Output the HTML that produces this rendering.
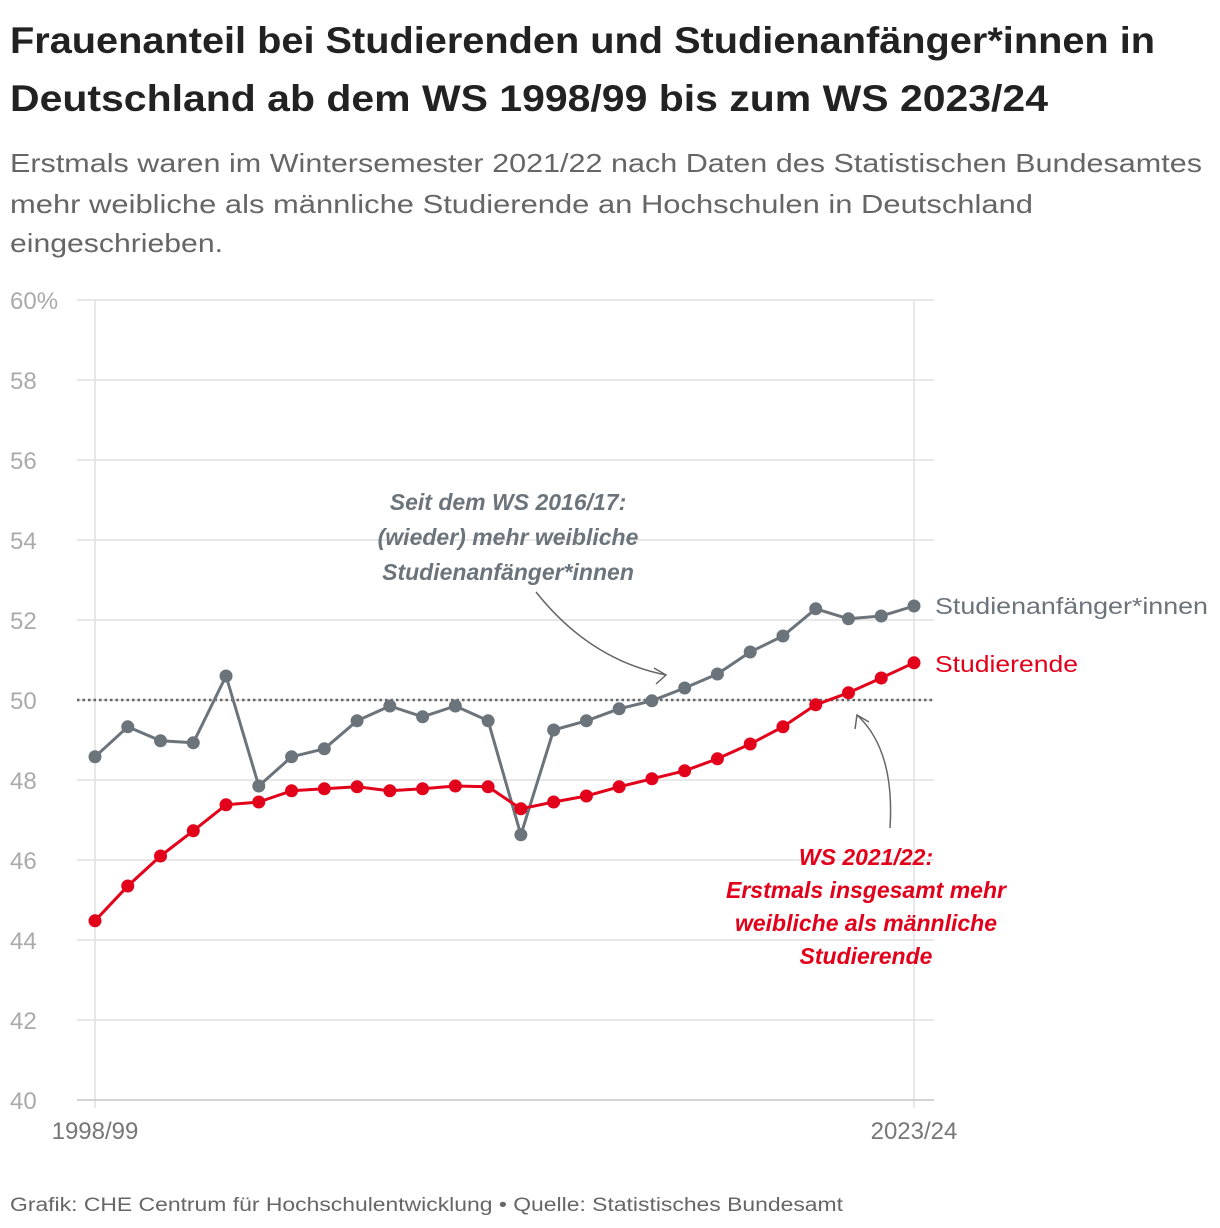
<!DOCTYPE html>
<html><head><meta charset="utf-8"><style>
html,body{margin:0;padding:0;background:#fff;width:1220px;height:1228px;overflow:hidden}
svg{display:block;font-family:"Liberation Sans",sans-serif}
</style></head><body>
<svg id="chart" width="1220" height="1228" viewBox="0 0 1220 1228" xmlns="http://www.w3.org/2000/svg">
<text x="10" y="53" font-size="37" font-weight="bold" fill="#222" textLength="1145" lengthAdjust="spacingAndGlyphs">Frauenanteil bei Studierenden und Studienanfänger*innen in</text>
<text x="10" y="111" font-size="37" font-weight="bold" fill="#222" textLength="1038" lengthAdjust="spacingAndGlyphs">Deutschland ab dem WS 1998/99 bis zum WS 2023/24</text>
<text x="10" y="172" font-size="26" fill="#666" textLength="1192" lengthAdjust="spacingAndGlyphs">Erstmals waren im Wintersemester 2021/22 nach Daten des Statistischen Bundesamtes</text>
<text x="10" y="213" font-size="26" fill="#666" textLength="1023" lengthAdjust="spacingAndGlyphs">mehr weibliche als männliche Studierende an Hochschulen in Deutschland</text>
<text x="10" y="252" font-size="26" fill="#666" textLength="213" lengthAdjust="spacingAndGlyphs">eingeschrieben.</text>
<g id="plot"></g>
<text x="10" y="1211" font-size="19" fill="#666" textLength="833" lengthAdjust="spacingAndGlyphs">Grafik: CHE Centrum für Hochschulentwicklung • Quelle: Statistisches Bundesamt</text>
</svg>
<script>
const years = ["1998/99","1999/00","2000/01","2001/02","2002/03","2003/04","2004/05","2005/06","2006/07","2007/08","2008/09","2009/10","2010/11","2011/12","2012/13","2013/14","2014/15","2015/16","2016/17","2017/18","2018/19","2019/20","2020/21","2021/22","2022/23","2023/24"];
const anfaenger = [48.58,49.33,48.98,48.93,50.6,47.85,48.58,48.78,49.48,49.85,49.58,49.85,49.48,46.63,49.25,49.48,49.78,49.98,50.3,50.65,51.2,51.6,52.28,52.03,52.1,52.35];
const studierende = [44.48,45.35,46.1,46.73,47.38,47.45,47.73,47.78,47.83,47.73,47.78,47.85,47.83,47.28,47.45,47.6,47.83,48.03,48.23,48.53,48.9,49.33,49.88,50.18,50.55,50.93];
const yTicks = [40,42,44,46,48,50,52,54,56,58,60];
const yTickLabels = ["40","42","44","46","48","50","52","54","56","58","60%"];
const xTickLabels = ["1998/99","2023/24"];

const NS="http://www.w3.org/2000/svg";
const g=document.getElementById('plot');
const x=i=>95+i*(914-95)/(years.length-1);
const y=v=>1100-(v-40)*40;
function mk(t,a,p){const e=document.createElementNS(NS,t);for(const k in a)e.setAttribute(k,a[k]);(p||g).appendChild(e);return e;}

yTicks.forEach((v,i)=>{
  const l=mk('line',{x1:77,x2:934,y1:y(v),y2:y(v),stroke:'#e0e0e0','stroke-width':1.5});
  
  
  const t=mk('text',{x:10,y:y(v)+9,'font-size':24,fill:'#aaa'});
  t.textContent=yTickLabels[i];
  
  
});
[0,years.length-1].forEach(i=>{
  const l=mk('line',{x1:x(i),x2:x(i),y1:300,y2:1108,stroke:'#e0e0e0','stroke-width':1.5});
  
  
});
const base=mk('line',{x1:77,x2:934,y1:1100,y2:1100,stroke:'#ccc','stroke-width':1.5});


xTickLabels.forEach((lab,j)=>{
  const t=mk('text',{x:j?914:95,y:1139,'font-size':24,fill:'#777','text-anchor':'middle'});
  t.textContent=lab;
  
  
});
const ref=mk('line',{x1:77,x2:934,y1:y(50),y2:y(50),stroke:'#666','stroke-width':2.5,'stroke-dasharray':'2.5 3'});



function series(vals,color,name){
  const p=mk('polyline',{points:vals.map((v,i)=>x(i)+','+y(v)).join(' '),fill:'none',stroke:color,'stroke-width':3,'stroke-linejoin':'round'});
  
  
  vals.forEach((v,i)=>{
    const c=mk('circle',{cx:x(i),cy:y(v),r:6.5,fill:color});
    
    
  });
}
series(anfaenger,'#6b737b','studienanfaenger');
series(studierende,'#e2001a','studierende');

const la=mk('text',{x:935,y:y(anfaenger[25])+8,'font-size':23,fill:'#6b737b',textLength:273,lengthAdjust:'spacingAndGlyphs'});
la.textContent='Studienanfänger*innen';


const ls=mk('text',{x:935,y:y(studierende[25])+9,'font-size':23,fill:'#e2001a',textLength:143,lengthAdjust:'spacingAndGlyphs'});
ls.textContent='Studierende';



const a1=mk('g',{});


["Seit dem WS 2016/17:","(wieder) mehr weibliche","Studienanfänger*innen"].forEach((s,i)=>{
  const t=mk('text',{x:508,y:510+i*35,'font-size':23,'font-weight':'bold','font-style':'italic',fill:'#6b737b','text-anchor':'middle'},a1);t.textContent=s;
});
mk('path',{d:'M536 592 Q590 660 666 675',fill:'none',stroke:'#666','stroke-width':1.5},a1);
mk('path',{d:'M654 668 L666 675 L656 684',fill:'none',stroke:'#666','stroke-width':1.5},a1);
const a2=mk('g',{});


["WS 2021/22:","Erstmals insgesamt mehr","weibliche als männliche","Studierende"].forEach((s,i)=>{
  const t=mk('text',{x:866,y:865+i*33,'font-size':23,'font-weight':'bold','font-style':'italic',fill:'#e2001a','text-anchor':'middle'},a2);t.textContent=s;
});
mk('path',{d:'M890 828 Q895 750 857 715',fill:'none',stroke:'#666','stroke-width':1.5},a2);
mk('path',{d:'M855 729 L857 715 L869 722',fill:'none',stroke:'#666','stroke-width':1.5},a2);
</script>
</body></html>
